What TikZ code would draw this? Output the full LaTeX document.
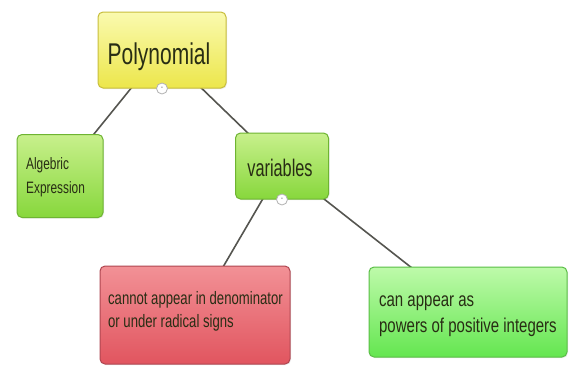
\documentclass[tikz,border=0pt]{standalone}
\usepackage{fontspec}
\setmainfont{Liberation Sans}
\usetikzlibrary{shadows}
\definecolor{ytop}{RGB}{250,250,175}
\definecolor{ybot}{RGB}{236,230,75}
\definecolor{ydraw}{RGB}{200,190,60}
\definecolor{gtop}{RGB}{200,240,140}
\definecolor{gbot}{RGB}{135,215,60}
\definecolor{gdraw}{RGB}{110,180,50}
\definecolor{rtop}{RGB}{242,145,150}
\definecolor{rbot}{RGB}{225,85,95}
\definecolor{rdraw}{RGB}{175,70,80}
\definecolor{g2top}{RGB}{190,250,170}
\definecolor{g2bot}{RGB}{100,230,80}
\definecolor{g2draw}{RGB}{90,190,70}
\definecolor{txt}{RGB}{40,45,20}
\definecolor{conn}{RGB}{85,85,80}
\tikzset{
  box/.style={rounded corners=5pt, line width=1pt, drop shadow={opacity=0.15, shadow xshift=1pt, shadow yshift=-1pt}},
  ybox/.style={box, draw=ydraw, top color=ytop, bottom color=ybot},
  gbox/.style={box, draw=gdraw, top color=gtop, bottom color=gbot},
  rbox/.style={box, draw=rdraw, top color=rtop, bottom color=rbot},
  g2box/.style={box, draw=g2draw, top color=g2top, bottom color=g2bot},
  lbl/.style={text=txt, inner sep=0pt},
  conline/.style={draw=conn, line width=1.6pt},
  knob/.style={circle, draw=gray!60, fill=white, line width=0.8pt, minimum size=11pt, inner sep=0pt, font=\fontsize{7}{7}\selectfont\bfseries, text=gray!80}
}
\begin{document}
\begin{tikzpicture}[x=1pt,y=-1pt]
\useasboundingbox[fill=white] (0,0) rectangle (573,368);
% connectors (behind)
\coordinate (pc) at (162,50);
\coordinate (ac) at (60,176);
\coordinate (vc) at (282,166);
\coordinate (rc) at (195,315);
\coordinate (gc) at (468,312);
\draw[conline] (pc) -- (ac);
\draw[conline] (pc) -- (vc);
\draw[conline] (vc) -- (rc);
\draw[conline] (vc) -- (gc);
% boxes
\node[ybox, minimum width=128pt, minimum height=76pt] (poly) at (pc) {};
\node[gbox, minimum width=86pt, minimum height=83pt] (alg) at (ac) {};
\node[gbox, minimum width=93pt, minimum height=66pt] (var) at (vc) {};
\node[rbox, minimum width=190pt, minimum height=98pt] (red) at (rc) {};
\node[g2box, minimum width=198pt, minimum height=90pt] (grn) at (gc) {};
% texts
\node[lbl, font=\fontsize{30}{30}\selectfont, xscale=0.7, anchor=base] (polyt) at (159,64) {Polynomial};
\node[lbl, font=\fontsize{16.5}{16.5}\selectfont, xscale=0.72, anchor=base west] (alg1) at (26,169) {Algebric};
\node[lbl, font=\fontsize{16.5}{16.5}\selectfont, xscale=0.72, anchor=base west] (alg2) at (26,193) {Expression};
\node[lbl, font=\fontsize{24}{24}\selectfont, xscale=0.68, anchor=base] (vart) at (280,176) {variables};
\node[lbl, font=\fontsize{18}{18}\selectfont, xscale=0.73, anchor=base west] (red1) at (108,304) {cannot appear in denominator};
\node[lbl, font=\fontsize{18}{18}\selectfont, xscale=0.73, anchor=base west] (red2) at (108,327) {or under radical signs};
\node[lbl, font=\fontsize{20}{20}\selectfont, xscale=0.75, anchor=base west] (grn1) at (379,306) {can appear as};
\node[lbl, font=\fontsize{20}{20}\selectfont, xscale=0.75, anchor=base west] (grn2) at (379,332) {powers of positive integers};
% knobs
\node[knob] (k1) at (poly.south) {-};
\node[knob] (k2) at (var.south) {-};
\end{tikzpicture}
\end{document}
